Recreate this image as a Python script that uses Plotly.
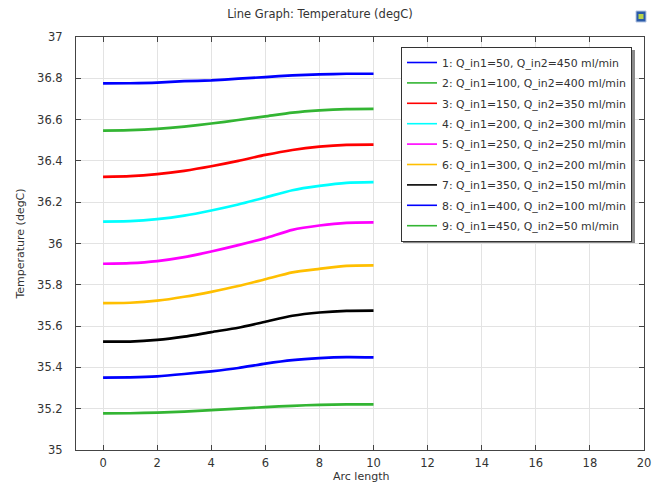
import plotly.graph_objects as go

arc = [0, 1, 2, 3, 4, 5, 6, 7, 8, 9, 10]
names = [
    "1: Q_in1=50, Q_in2=450 ml/min",
    "2: Q_in1=100, Q_in2=400 ml/min",
    "3: Q_in1=150, Q_in2=350 ml/min",
    "4: Q_in1=200, Q_in2=300 ml/min",
    "5: Q_in1=250, Q_in2=250 ml/min",
    "6: Q_in1=300, Q_in2=200 ml/min",
    "7: Q_in1=350, Q_in2=150 ml/min",
    "8: Q_in1=400, Q_in2=100 ml/min",
    "9: Q_in1=450, Q_in2=50 ml/min",
]
t1 = [36.775, 36.776, 36.779, 36.786, 36.790, 36.798, 36.806, 36.814, 36.819, 36.822, 36.822]
t2 = [36.547, 36.549, 36.555, 36.566, 36.581, 36.598, 36.616, 36.634, 36.645, 36.651, 36.652]
t3 = [36.323, 36.326, 36.336, 36.352, 36.374, 36.400, 36.429, 36.453, 36.469, 36.478, 36.479]
t4 = [36.106, 36.108, 36.118, 36.135, 36.160, 36.189, 36.223, 36.258, 36.279, 36.294, 36.297]
t5 = [35.902, 35.905, 35.915, 35.934, 35.961, 35.992, 36.026, 36.066, 36.087, 36.100, 36.102]
t6 = [35.711, 35.713, 35.723, 35.742, 35.766, 35.794, 35.827, 35.860, 35.877, 35.892, 35.894]
t7 = [35.525, 35.525, 35.533, 35.549, 35.571, 35.592, 35.621, 35.650, 35.666, 35.674, 35.675]
t8 = [35.350, 35.352, 35.357, 35.368, 35.381, 35.397, 35.418, 35.435, 35.445, 35.450, 35.449]
t9 = [35.177, 35.178, 35.181, 35.186, 35.193, 35.200, 35.208, 35.214, 35.219, 35.221, 35.221]
series = [t1, t2, t3, t4, t5, t6, t7, t8, t9]
colors = ["#0000ff", "#33b533", "#ff0000", "#00ffff", "#ff00ff",
          "#ffbf00", "#000000", "#0000ff", "#33b533"]

x_ticks = list(range(0, 21, 2))
y_ticks = [35, 35.2, 35.4, 35.6, 35.8, 36, 36.2, 36.4, 36.6, 36.8, 37]
y_tick_text = ["35", "35.2", "35.4", "35.6", "35.8", "36", "36.2", "36.4", "36.6", "36.8", "37"]

font = "DejaVu Sans, Verdana, sans-serif"
OFF = 8  # page body margin
# target plot box in page pixels
PX0, PX1, PY0, PY1 = 76, 644, 37, 450
W, H = 662 - OFF, 484 - OFF
L, R, T, B = PX0 - OFF, 662 - PX1, PY0 - OFF, 484 - PY1
PW, PH = PX1 - PX0, PY1 - PY0


def px(x):
    return (x - PX0) / PW


def py(y):
    return (PY1 - y) / PH


fig = go.Figure()
for i, (name, ys, c) in enumerate(zip(names, series, colors)):
    fig.add_trace(go.Scatter(x=arc, y=ys, mode="lines", name=name, showlegend=False,
                             legendgroup=str(i),
                             line=dict(color=c, width=2.7, shape="spline", smoothing=0.6)))
for i, (name, c) in enumerate(zip(names, colors)):
    fig.add_trace(go.Scatter(x=[None], y=[None], mode="lines", name=name,
                             legendgroup=str(i), showlegend=True,
                             line=dict(color=c, width=1.6)))

# legend drop shadow
fig.add_shape(type="rect", xref="paper", yref="paper",
              x0=px(403), x1=px(635), y0=py(243), y1=py(50),
              fillcolor="#8a8a8a", line=dict(width=0), layer="above")
# small application icon at top right
fig.add_shape(type="rect", xref="paper", yref="paper",
              x0=px(636), x1=px(646), y0=py(22), y1=py(11),
              fillcolor="#2a5aa8", line=dict(color="#b8c8e4", width=1), layer="above")
fig.add_shape(type="rect", xref="paper", yref="paper",
              x0=px(638.5), x1=px(643.5), y0=py(19), y1=py(14),
              fillcolor="#b8d44a", line=dict(width=0), layer="above")

fig.add_annotation(text="Arc length", xref="paper", yref="paper", x=px(361), y=py(476),
                   xanchor="center", yanchor="middle", showarrow=False,
                   font=dict(size=11, color="#333333"))

fig.update_layout(
    width=W, height=H,
    margin=dict(l=L, r=R, t=T, b=B, autoexpand=False),
    paper_bgcolor="white", plot_bgcolor="white",
    font=dict(family=font, size=11, color="#333333"),
    title=dict(text="Line Graph: Temperature (degC)", x=(320 - OFF) / W, xanchor="center",
               xref="container", y=1 - (14 - OFF) / H, yanchor="middle",
               font=dict(size=11.5, color="#333333")),
    showlegend=True,
    legend=dict(x=px(401), y=py(47), xanchor="left", yanchor="top",
                bgcolor="white", bordercolor="#333333", borderwidth=1,
                font=dict(size=10.9, color="#333333"), tracegroupgap=1.4,
                traceorder="grouped"),
    xaxis=dict(range=[-1, 20], tickvals=x_ticks, showgrid=True, gridcolor="#e3e3e3",
               showline=True, linecolor="#444444", linewidth=1, mirror="ticks",
               ticks="inside", ticklen=5, tickcolor="#444444", zeroline=False,
               automargin=False, ticklabelstandoff=2, tickfont=dict(size=11.5)),
    yaxis=dict(range=[35, 37], tickvals=y_ticks, ticktext=y_tick_text, showgrid=True,
               gridcolor="#e3e3e3", showline=True, linecolor="#444444", linewidth=1,
               mirror="ticks", ticks="inside", ticklen=5, tickcolor="#444444",
               zeroline=False, automargin=False, ticklabelstandoff=10,
               tickfont=dict(size=11.5),
               title=dict(text="Temperature (degC)", standoff=10, font=dict(size=11))),
)

fig.write_html("out.html")
